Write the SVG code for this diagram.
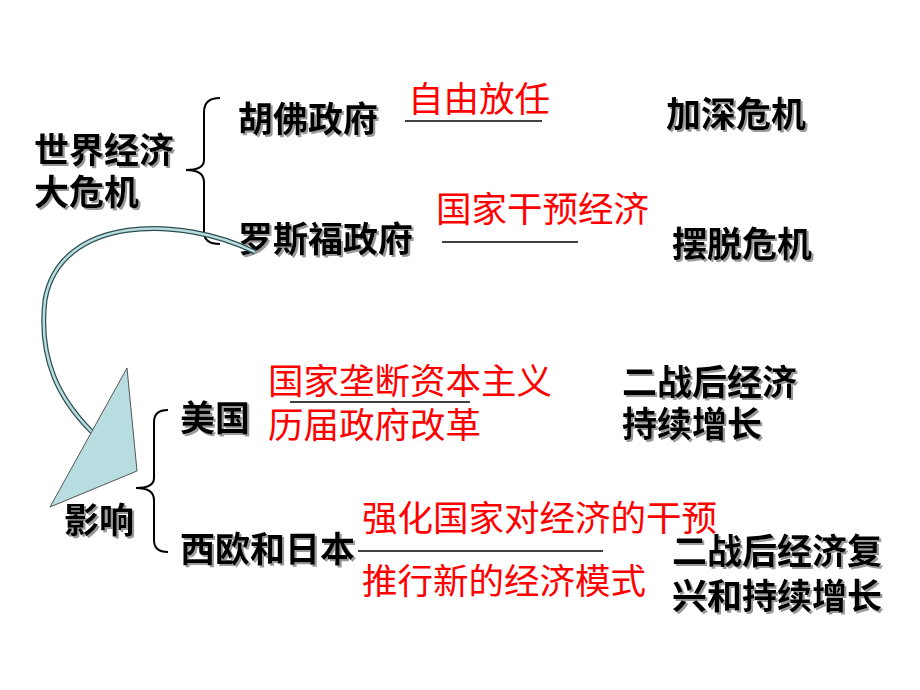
<svg xmlns="http://www.w3.org/2000/svg" width="920" height="690" viewBox="0 0 920 690">
<defs>
<filter id="sh" x="-10%" y="-10%" width="130%" height="140%"><feDropShadow dx="2" dy="2" stdDeviation="0.5" flood-color="#999"/></filter>
</defs>
<style>
text{font-family:"Noto Sans CJK SC","Liberation Sans",sans-serif;font-weight:bold;font-size:35px}
.k{fill:#000;filter:url(#sh)}
.r{fill:#ff0000;font-weight:normal;font-size:35.5px}
.b{fill:none;stroke:#000;stroke-width:2}
.l{stroke:#000;stroke-width:1.5}
</style>
<rect width="920" height="690" fill="#fff"/>
<g id="crisis"><text class="k" x="34" y="163">世界经济</text><text class="k" x="34" y="205">大危机</text>
<path class="b" d="M220,98 Q204,98 204,112 L204,160 Q204,170 186,170 Q204,170 204,182 L204,232 Q204,244 220,244"/></g>
<g id="hoover"><text class="k" x="238" y="132">胡佛政府</text><text class="r" x="408" y="112">自由放任</text><line class="l" x1="405" y1="121" x2="542" y2="121"/><text class="k" x="666" y="127">加深危机</text></g>
<g id="roosevelt"><text class="k" x="238" y="252">罗斯福政府</text><text class="r" x="436" y="222">国家干预经济</text><line class="l" x1="442" y1="242" x2="578" y2="242"/><text class="k" x="672" y="257">摆脱危机</text></g>
<g id="connectors"><path d="M255,252 C180,215 60,215 45,300 C38,360 60,400 92,432" fill="none" stroke="#2f4f4f" stroke-width="5"/><path d="M255,252 C180,215 60,215 45,300 C38,360 60,400 92,432" fill="none" stroke="#b8dde0" stroke-width="2.5"/>
<polygon points="127,368 137,471 50,507" fill="#b8dde0" stroke="#555" stroke-width="1"/></g>
<g id="impact"><text class="k" x="64" y="533">影响</text>
<path class="b" d="M168,410 Q154,410 154,422 L154,478 Q154,488 136,488 Q154,488 154,500 L154,540 Q154,552 168,552"/></g>
<g id="usa"><text class="k" x="180" y="431">美国</text><text class="r" x="268" y="394">国家垄断资本主义</text><line class="l" x1="290" y1="402" x2="470" y2="402"/><text class="r" x="268" y="438">历届政府改革</text><text class="k" x="622" y="395">二战后经济</text><text class="k" x="622" y="437">持续增长</text></g>
<g id="europe"><text class="k" x="180" y="562">西欧和日本</text><text class="r" x="362" y="531">强化国家对经济的干预</text><line class="l" x1="358" y1="551" x2="603" y2="551"/><text class="r" x="362" y="594">推行新的经济模式</text><text class="k" x="672" y="564">二战后经济复</text><text class="k" x="672" y="609">兴和持续增长</text></g>
</svg>
